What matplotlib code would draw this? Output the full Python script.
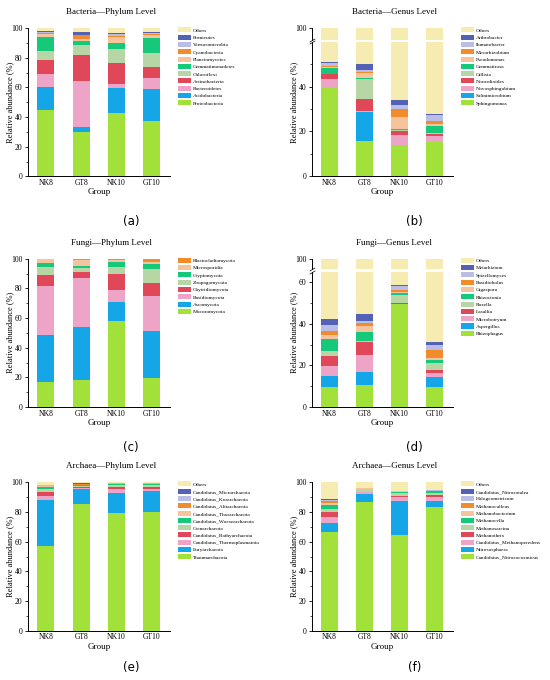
import numpy as np
import matplotlib
matplotlib.use('Agg')
import matplotlib.pyplot as plt

plt.rcParams['font.family'] = ['Liberation Serif', 'DejaVu Serif']
plt.rcParams['axes.linewidth'] = 0.7

groups = ['NK8', 'GT8', 'NK10', 'GT10']

colors = ['#A2E03A', '#14A6E6', '#EEA4C6', '#E0485A', '#B6D6A6', '#16C87A',
          '#F5C49C', '#F28B2C', '#BABEE6', '#5462B6', '#F6ECB2']

# (a) Bacteria - Phylum
bac_phy_names = ['Proteobacteria', 'Acidobacteria', 'Bacteroidetes', 'Actinobacteria',
                 'Chloroflexi', 'Gemmatimonadetes', 'Planctomycetes', 'Cyanobacteria',
                 'Verrucomicrobia', 'Firmicutes', 'Others']
bac_phy_vals = [[44.8, 30.0, 42.6, 37.2],
                [15.8, 3.3, 16.9, 21.8],
                [8.5, 31.1, 2.9, 7.2],
                [9.5, 17.4, 14.4, 7.9],
                [6.3, 6.9, 9.2, 9.0],
                [9.0, 3.0, 3.9, 10.6],
                [2.2, 1.0, 4.5, 1.8],
                [0.5, 2.8, 0.4, 0.5],
                [0.8, 0.3, 1.1, 0.8],
                [0.5, 1.5, 0.7, 0.5],
                [2.1, 2.7, 3.4, 2.7]]

# (b) Bacteria - Genus
bac_gen_names = ['Sphingomonas', 'Salinimicrobium', 'Novosphingobium', 'Nocardioides',
                 'Gillisia', 'Gemmatirosa', 'Pseudomonas', 'Mesorhizobium',
                 'Ilumatobacter', 'Arthrobacter', 'Others']
bac_gen_vals = [[39.4, 15.8, 14.1, 15.5],
                [0.0, 13.0, 0.0, 0.0],
                [3.9, 0.2, 4.2, 2.5],
                [2.2, 5.3, 1.8, 0.9],
                [0.3, 9.1, 0.5, 0.2],
                [2.6, 0.6, 0.4, 3.4],
                [0.5, 1.9, 5.6, 0.6],
                [0.3, 0.8, 3.4, 1.6],
                [1.5, 0.5, 1.7, 2.5],
                [0.4, 2.8, 2.4, 0.5],
                [48.9, 50.0, 65.9, 72.3]]

# (c) Fungi - Phylum
fun_phy_names = ['Mucoromycota', 'Ascomycota', 'Basidiomycota', 'Chytridiomycota',
                 'Zoopagomycota', 'Cryptomycota', 'Microsporidia', 'Blastocladiomycota']
fun_phy_vals = [[16.6, 18.0, 58.2, 19.3],
                [31.9, 36.2, 12.8, 31.9],
                [33.1, 32.8, 7.9, 23.4],
                [7.4, 3.8, 10.5, 9.2],
                [5.2, 2.7, 4.8, 9.0],
                [3.1, 1.8, 3.8, 3.6],
                [2.3, 4.0, 0.9, 1.6],
                [0.4, 0.7, 1.1, 2.0]]

# (d) Fungi - Genus
fun_gen_names = ['Rhizophagus', 'Aspergillus', 'Microbotryum', 'Lasallia', 'Rozella',
                 'Rhizoctonia', 'Gigaspora', 'Basidiobolus', 'Spizellomyces',
                 'Metarhizium', 'Others']
fun_gen_vals = [[9.5, 10.5, 49.4, 9.5],
                [5.5, 6.3, 0.1, 4.7],
                [4.7, 8.2, 0.2, 1.9],
                [4.7, 6.0, 0.1, 1.6],
                [2.7, 0.9, 4.0, 3.6],
                [5.6, 4.2, 0.8, 1.4],
                [1.7, 2.6, 0.7, 0.8],
                [2.1, 1.6, 1.0, 3.9],
                [2.9, 1.0, 1.8, 2.4],
                [3.0, 3.5, 0.3, 1.5],
                [57.6, 55.2, 41.6, 68.7]]

# (e) Archaea - Phylum
arc_phy_names = ['Thaumarchaeota', 'Euryarchaeota', 'Candidatus_Thermoplasmatota',
                 'Candidatus_Bathyarchaeota', 'Crenarchaeota', 'Candidatus_Woesearchaeota',
                 'Candidatus_Thorarchaeota', 'Candidatus_Altiarchaeota',
                 'Candidatus_Korarchaeota', 'Candidatus_Micrarchaeota', 'Others']
arc_phy_vals = [[57.1, 85.2, 79.3, 80.0],
                [31.0, 10.3, 13.7, 14.4],
                [2.9, 0.9, 2.7, 0.9],
                [2.7, 0.2, 1.2, 1.6],
                [1.6, 1.2, 1.1, 1.3],
                [1.8, 0.4, 0.7, 0.4],
                [0.3, 0.3, 0.1, 0.2],
                [0.2, 0.1, 0.1, 0.1],
                [0.8, 0.5, 0.3, 0.4],
                [0.1, 0.1, 0.1, 0.1],
                [1.5, 0.8, 0.7, 0.6]]

# (f) Archaea - Genus
arc_gen_names = ['Candidatus_Nitrosocosmicus', 'Nitrososphaera', 'Candidatus_Methanoperedens',
                 'Methanothrix', 'Methanosarcina', 'Methanocella', 'Methanobacterium',
                 'Methanoculleus', 'Halogeometricum', 'Candidatus_Nitrosotalea', 'Others']
arc_gen_vals = [[66.3, 87.0, 64.5, 83.4],
                [6.5, 4.9, 22.9, 4.2],
                [4.1, 1.4, 2.9, 2.3],
                [2.9, 0.3, 0.7, 1.8],
                [2.0, 1.7, 2.0, 1.3],
                [3.1, 0.4, 0.7, 0.9],
                [1.4, 0.2, 0.2, 0.3],
                [1.3, 0.1, 0.1, 0.2],
                [0.7, 0.2, 0.2, 0.3],
                [0.5, 0.1, 0.0, 0.1],
                [11.2, 3.7, 5.8, 5.2]]

W, H = 550, 680
fig = plt.figure(figsize=(W / 100, H / 100), dpi=100)


def box(l, t, r, b):
    return [l / W, 1 - b / H, (r - l) / W, (b - t) / H]


def stack(ax, names, vals):
    x = np.arange(len(groups))
    bottom = np.zeros(len(groups))
    cols = colors[:len(names) - 1] + [colors[-1]] if names[-1] == 'Others' else colors
    for name, v, c in zip(names, vals, cols):
        ax.bar(x, v, 0.48, bottom=bottom, color=c, label=name, linewidth=0)
        bottom += np.array(v)
    ax.set_xlim(-0.5, 3.52)
    for s in ['top', 'right']:
        ax.spines[s].set_visible(False)
    ax.tick_params(axis='y', which='major', direction='out', length=2.5, width=0.6,
                   labelsize=5.5, pad=1.5)
    ax.tick_params(axis='y', which='minor', direction='out', length=1.5, width=0.5)
    ax.tick_params(axis='x', length=0, labelsize=5.5, pad=2)


def panel(l, r, t, b, names, vals, title, label, label_y, brk=None):
    if brk is None:
        ax = fig.add_axes(box(l, t, r, b))
        stack(ax, names, vals)
        ax.set_ylim(0, 100)
        ax.set_yticks([0, 20, 40, 60, 80, 100])
        ax.set_yticks(np.arange(10, 100, 20), minor=True)
        low = ax
    else:
        lo_top, lo_max, up_bot = brk
        low = fig.add_axes(box(l, lo_top, r, b))
        up = fig.add_axes(box(l, t, r, up_bot))
        stack(low, names, vals)
        stack(up, names, vals)
        low.set_ylim(0, lo_max)
        up.set_ylim(95, 100)
        low.set_yticks([v for v in [0, 20, 40, 60] if v < lo_max])
        low.set_yticks(np.arange(10, lo_max, 20), minor=True)
        up.set_yticks([100])
        up.spines['bottom'].set_visible(False)
        up.tick_params(axis='x', labelbottom=False)
        for a, y0 in [(low, 1.0), (up, 0.0)]:
            a.plot([0], [y0], transform=a.transAxes, marker=[(-1, -0.6), (1, 0.6)],
                   markersize=4, color='k', mew=0.5, linestyle='none', clip_on=False)
    low.set_xticks(range(len(groups)))
    low.set_xticklabels(groups)
    low.set_xlabel('Group', fontsize=6.5, labelpad=1)
    fig.text((l - 18) / W, 1 - (t + b) / 2 / H, 'Relative abundance (%)', rotation=90,
             ha='center', va='center', fontsize=6)
    fig.text((l + r) / 2 / W + 12 / W, 1 - (t - 16) / H, title, ha='center',
             va='center', fontsize=6.5)
    fig.text((l + r) / 2 / W + 32 / W, 1 - label_y / H, label, ha='center', va='center',
             fontsize=8.5, family='DejaVu Sans')
    h, lb = low.get_legend_handles_labels()
    fig.legend(h[::-1], lb[::-1], loc='upper left',
               bbox_to_anchor=((r + 8) / W, 1 - (t - 1) / H), frameon=False,
               fontsize=3.9, handlelength=2.4, handleheight=1.05, labelspacing=0.36,
               handletextpad=0.35, borderpad=0, borderaxespad=0)


panel(28.3, 170, 28.3, 176.3, bac_phy_names, bac_phy_vals, 'Bacteria\u2014Phylum Level',
      '(a)', 222)
panel(311.7, 453, 28.3, 176.3, bac_gen_names, bac_gen_vals, 'Bacteria\u2014Genus Level',
      '(b)', 222, brk=(41.7, 60, 39.5))
panel(28.3, 170, 258.7, 407, fun_phy_names, fun_phy_vals, 'Fungi\u2014Phylum Level',
      '(c)', 447)
panel(311.7, 453, 258.7, 407, fun_gen_names, fun_gen_vals, 'Fungi\u2014Genus Level',
      '(d)', 447, brk=(271.7, 65, 269.3))
panel(28.3, 170, 482.3, 630.7, arc_phy_names, arc_phy_vals, 'Archaea\u2014Phylum Level',
      '(e)', 668)
panel(311.7, 453, 482.3, 630.7, arc_gen_names, arc_gen_vals, 'Archaea\u2014Genus Level',
      '(f)', 668)

plt.savefig('out.png', dpi=100)
